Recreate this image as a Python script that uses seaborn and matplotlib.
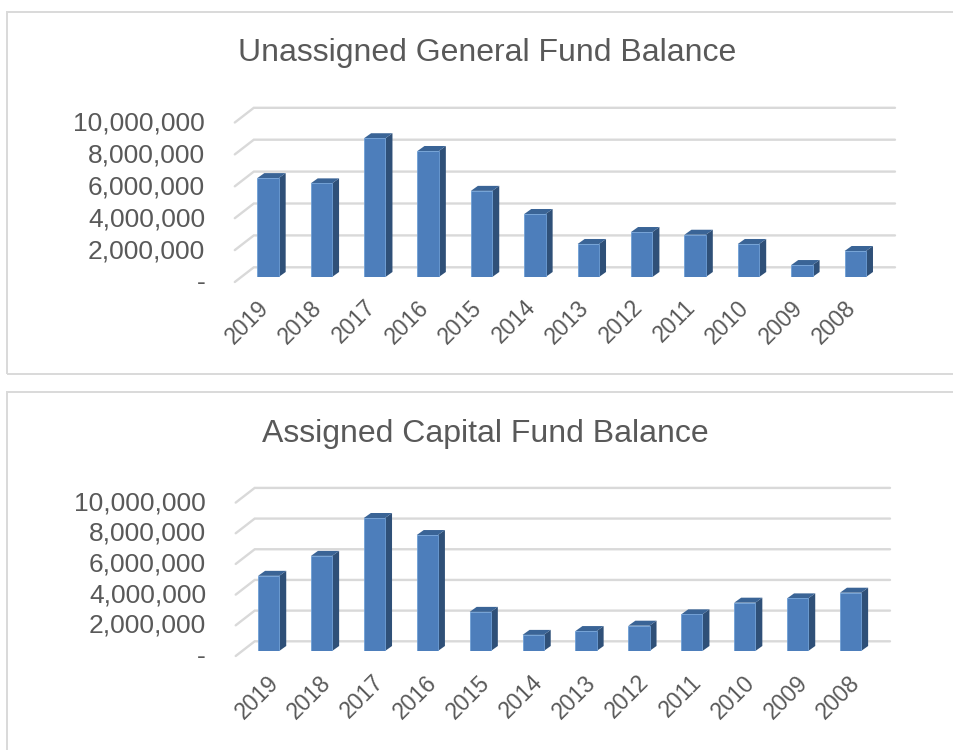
import matplotlib
matplotlib.use('Agg')
import matplotlib.pyplot as plt
from matplotlib.patches import Polygon, Rectangle
from matplotlib.transforms import IdentityTransform, ScaledTranslation
import pandas as pd
import seaborn as sns

years = ['2019', '2018', '2017', '2016', '2015', '2014', '2013', '2012', '2011', '2010', '2009', '2008']
general_fund = [6200000, 5870000, 8700000, 7900000, 5400000, 3950000, 2070000, 2820000, 2650000, 2070000, 750000, 1630000]
capital_fund = [4900000, 6200000, 8670000, 7560000, 2550000, 1050000, 1300000, 1650000, 2390000, 3150000, 3430000, 3800000]
y_ticks = [0, 2000000, 4000000, 6000000, 8000000, 10000000]
y_labels = ['-', '2,000,000', '4,000,000', '6,000,000', '8,000,000', '10,000,000']

W, H = 954, 750
FRONT = '#4d7ebb'
SIDE = '#2f5078'
TOP = '#3a6496'
EDGE = '#6f9fd6'
GRID = '#d9d9d9'
TEXT = '#595959'

sns.set_theme(style='white')
plt.rcParams['font.family'] = ['Liberation Sans', 'DejaVu Sans']

fig = plt.figure(figsize=(W / 100, H / 100), dpi=100)

# panel borders
for x0, y0, x1, y1 in [(7, 12, 960, 374), (7, 392, 960, 760)]:
    fig.add_artist(Rectangle((x0, H - y1), x1 - x0, y1 - y0, transform=IdentityTransform(),
                             fc='none', ec=GRID, lw=1.4, zorder=-1))


def shift(dx, dy):
    return ScaledTranslation(dx / 100, -dy / 100, fig.dpi_scale_trans)


def draw_panel(values, title, title_x, title_y, left, right, base, scale, xlab_shift, ylab_shift):
    # left/right/base in picture pixels, scale is pixels for 10 million
    ax = fig.add_axes([left / W, (H - base) / H, (right - left) / W, scale / H])
    ax.patch.set_alpha(0)
    df = pd.DataFrame({'year': years, 'balance': values})
    sns.barplot(data=df, x='year', y='balance', ax=ax, color=FRONT, width=0.4, saturation=1,
                edgecolor=EDGE, linewidth=0.6, zorder=5)
    ax.set_xlim(-0.5, len(years) - 0.5)
    ax.set_ylim(0, 10000000)
    ax.set_xlabel('')
    ax.set_ylabel('')
    sns.despine(ax=ax, left=True, bottom=True, top=True, right=True)

    # gridlines on the floor and back wall of the 3d box
    for v in y_ticks:
        xa, ya = ax.transData.transform((-0.5, v))
        xb, _ = ax.transData.transform((len(years) - 0.5, v))
        ax.plot([xa - 6.5, xa + 12.5, xb + 13], [ya - 5, ya + 9.7, ya + 9.7], transform=IdentityTransform(),
                color=GRID, lw=1.7, clip_on=False, zorder=1, solid_joinstyle='miter')

    # side and top faces taken from the bars seaborn drew
    dx, dy = 7, 5
    for bar in list(ax.patches):
        (x0, y0), (x1, y1) = ax.transData.transform(
            [(bar.get_x(), 0), (bar.get_x() + bar.get_width(), bar.get_height())])
        ax.add_patch(Polygon([(x1, y0), (x1 + dx, y0 + dy), (x1 + dx, y1 + dy), (x1, y1)], closed=True,
                             fc=SIDE, ec='none', transform=IdentityTransform(), clip_on=False, zorder=4))
        ax.add_patch(Polygon([(x0, y1), (x0 + dx, y1 + dy), (x1 + dx, y1 + dy), (x1, y1)], closed=True,
                             fc=TOP, ec='none', transform=IdentityTransform(), clip_on=False, zorder=4))

    ax.set_yticks(y_ticks)
    ax.set_yticklabels(y_labels, fontsize=19, color=TEXT)
    ax.tick_params(axis='y', length=0, pad=26)
    ax.set_xticks(range(len(years)))
    ax.set_xticklabels(years, fontsize=16.5, color=TEXT, rotation=45, ha='right', rotation_mode='anchor')
    ax.tick_params(axis='x', length=0, pad=15)
    for lab in ax.get_yticklabels():
        lab.set_transform(lab.get_transform() + shift(0, ylab_shift))
    for lab in ax.get_xticklabels():
        lab.set_transform(lab.get_transform() + shift(*xlab_shift))

    fig.text(title_x / W, 1 - title_y / H, title, fontsize=23, color=TEXT, ha='center', va='center')
    return ax


draw_panel(general_fund, 'Unassigned General Fund Balance', 487, 53, 241.3, 882, 277, 159.5, (-11, -2), 4)
draw_panel(capital_fund, 'Assigned Capital Fund Balance', 485, 434, 242.2, 877, 651, 153.4, (-2, -1), 3)

fig.savefig('out.png', dpi=100)
